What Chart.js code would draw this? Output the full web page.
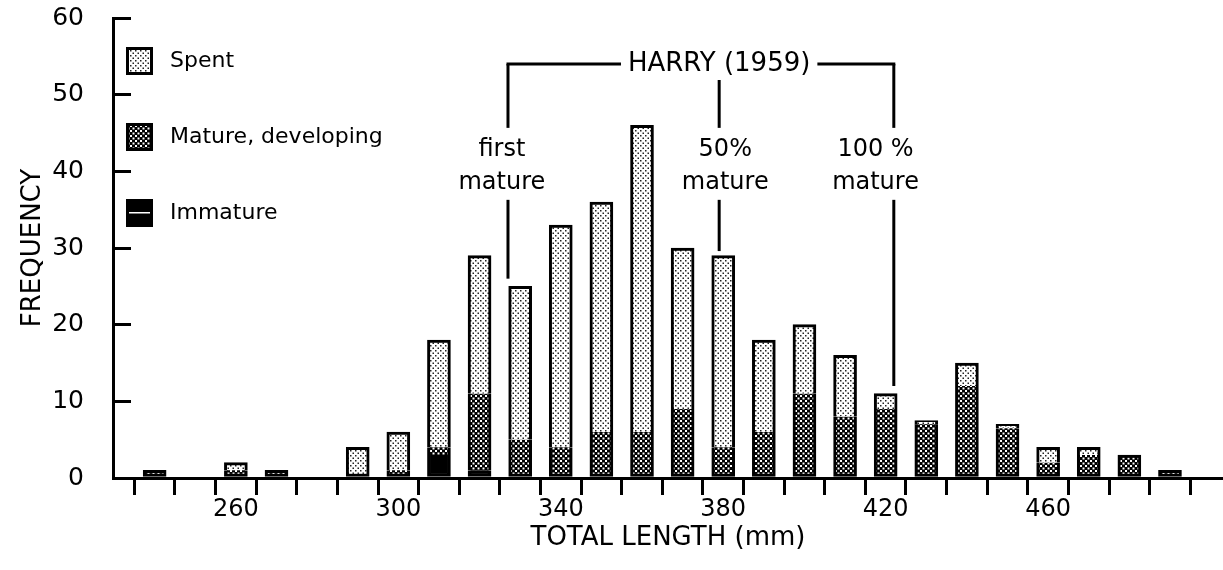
<!DOCTYPE html>
<html>
<head>
<meta charset="utf-8">
<title>Total length frequency</title>
<script src="https://cdn.jsdelivr.net/npm/chart.js@4.4.0/dist/chart.umd.min.js"></script>
<style>
    html, body { margin: 0; padding: 0; background: #fff; }
    #wrap { width: 1223px; height: 570px; }
</style>
</head>
<body>
<div id="wrap"><canvas id="lengthChart"></canvas></div>
<script>
// Size classes (mm) and counts per maturity stage
const lengths  = [240, 250, 260, 270, 280, 290, 300, 310, 320, 330, 340, 350, 360, 370, 380, 390, 400, 410, 420, 430, 440, 450, 460, 470, 480, 490];
const immature = [0, 0, 0, 0, 0, 0, 0, 3, 1, 0, 0, 0, 0, 0, 0, 0, 0, 0, 0, 0, 0, 0, 0, 0, 0, 0];
const mature   = [1, 0, 1, 1, 0, 0, 1, 1, 10, 5, 4, 6, 6, 9, 4, 6, 11, 8, 9, 7, 12, 6.5, 2, 3, 3, 1];
const spent    = [0, 0, 1, 0, 0, 4, 5, 14, 18, 20, 29, 30, 40, 21, 25, 12, 9, 8, 2, 0.5, 3, 0.5, 2, 1, 0, 0];

const seriesNames = ['Immature', 'Mature, developing', 'Spent'];
const labeledTicks = [260, 300, 340, 380, 420, 460];
const yTicks = [0, 10, 20, 30, 40, 50, 60];

// Harry (1959) reference lengths
const harryLengths  = [327, 379, 422];
const harryLineEnds = [26, 29.6, 12];
const harryTop      = ['first', '50%', '100 %'];
const harryBottom   = ['mature', 'mature', 'mature'];
const harryLabelAt  = [325.5, 380.5, 417.5];

const FONT = '"DejaVu Sans", sans-serif';

/**
 * Stipple fills like the printed figure
 */
function dotPattern(bg, dot, size, r) {
    const c = document.createElement('canvas');
    c.width = c.height = size;
    const g = c.getContext('2d');
    g.fillStyle = bg;
    g.fillRect(0, 0, size, size);
    g.fillStyle = dot;
    g.fillRect(0, 0, r, r);
    g.fillRect(size / 2, size / 2, r, r);
    return g.createPattern(c, 'repeat');
}

const fills = [
    '#000',
    dotPattern('#000', '#fff', 5, 2),
    dotPattern('#fff', '#222', 5, 1.5)
];
const stages = [immature, mature, spent];

// only the outer edges of a stacked bar get a border
function segmentBorder(ctx) {
    const i = ctx.dataIndex, d = ctx.datasetIndex;
    let isTop = true, isBottom = true;
    for (let k = d + 1; k < stages.length; k++) if (stages[k][i] > 0) isTop = false;
    for (let k = 0; k < d; k++) if (stages[k][i] > 0) isBottom = false;
    return { left: 3, right: 3, top: isTop ? 3 : 0, bottom: isBottom ? 3 : 0 };
}

const datasets = stages.map((vals, d) => ({
    label: seriesNames[d],
    data: lengths.map((len, i) => ({ x: len, y: vals[i] > 0 ? vals[i] : null })),
    backgroundColor: fills[d],
    borderColor: '#000',
    borderWidth: segmentBorder,
    borderSkipped: false,
    barThickness: 23
}));

/**
 * Legend in the upper left of the plot
 */
const boxLegend = {
    id: 'boxLegend',
    afterDraw(chart) {
        const { ctx, chartArea } = chart;
        const items = chart.data.datasets.slice().reverse();
        ctx.save();
        ctx.font = '22px ' + FONT;
        ctx.textBaseline = 'middle';
        items.forEach((ds, k) => {
            const bx = chartArea.left + 13;
            const by = chartArea.top + 29 + k * 76;
            ctx.fillStyle = '#000';
            ctx.fillRect(bx, by, 27, 28);
            ctx.fillStyle = ds.backgroundColor;
            ctx.fillRect(bx + 3, by + 3, 21, 22);
            if (ds.label === 'Immature') {
                ctx.fillStyle = '#fff';
                ctx.fillRect(bx + 3, by + 13, 21, 1.5);
            }
            ctx.fillStyle = '#000';
            ctx.fillText(ds.label, chartArea.left + 57, by + 14);
        });
        ctx.restore();
    }
};

/**
 * HARRY (1959) bracket and markers
 */
const harryMarks = {
    id: 'harryMarks',
    afterDatasetsDraw(chart) {
        const { ctx, scales: { x, y } } = chart;
        const seg = (x1, y1, x2, y2) => {
            ctx.beginPath();
            ctx.moveTo(x1, y1);
            ctx.lineTo(x2, y2);
            ctx.stroke();
        };
        ctx.save();
        ctx.strokeStyle = '#000';
        ctx.fillStyle = '#000';
        ctx.lineWidth = 3;
        ctx.textAlign = 'center';
        ctx.textBaseline = 'middle';

        const xs = harryLengths.map(v => x.getPixelForValue(v));
        const yb = y.getPixelForValue(54);
        const tx = xs[1];
        const title = 'HARRY (1959)';
        ctx.font = '26px ' + FONT;
        ctx.fillText(title, tx, yb);
        const half = ctx.measureText(title).width / 2 + 7;
        seg(xs[0] - 1.5, yb, tx - half, yb);
        seg(tx + half, yb, xs[2] + 1.5, yb);

        ctx.font = '24px ' + FONT;
        const yTop = y.getPixelForValue(42.8);
        const yBot = y.getPixelForValue(38.5);
        xs.forEach((px, k) => {
            const lx = x.getPixelForValue(harryLabelAt[k]);
            ctx.fillText(harryTop[k], lx, yTop);
            ctx.fillText(harryBottom[k], lx, yBot);
            const start = k === 1 ? yb + 16 : yb;
            seg(px, start, px, yTop - 22);
            seg(px, yBot + 17, px, y.getPixelForValue(harryLineEnds[k]));
        });
        ctx.restore();
    }
};

new Chart(document.getElementById('lengthChart'), {
    type: 'bar',
    data: { datasets },
    options: {
        responsive: true,
        maintainAspectRatio: false,
        animation: false,
        layout: { padding: { top: 18, left: 0, right: 0, bottom: 0 } },
        plugins: {
            legend: { display: false },
            tooltip: { enabled: false }
        },
        scales: {
            x: {
                type: 'linear',
                stacked: true,
                min: 235,
                max: 497.8,
                afterBuildTicks: scale => { scale.ticks = lengths.map(v => ({ value: v })); },
                afterFit: scale => {
                    scale.height = 92;
                    scale.paddingLeft = 0;
                    scale.paddingRight = 0;
                },
                ticks: {
                    autoSkip: false,
                    maxRotation: 0,
                    padding: 0,
                    color: '#000',
                    font: { family: FONT, size: 24 },
                    callback: v => labeledTicks.includes(v) ? String(v) : ''
                },
                grid: { drawOnChartArea: false, drawTicks: true, tickLength: 17, color: '#000', lineWidth: 3 },
                border: { display: true, color: '#000', width: 3 },
                title: {
                    display: true,
                    text: 'TOTAL LENGTH (mm)',
                    color: '#000',
                    font: { family: FONT, size: 26 },
                    padding: { top: 0, bottom: 16 }
                }
            },
            y: {
                stacked: true,
                min: 0,
                max: 60,
                afterBuildTicks: scale => { scale.ticks = yTicks.map(v => ({ value: v })); },
                afterFit: scale => {
                    scale.width = 113;
                    scale.paddingTop = 0;
                    scale.paddingBottom = 0;
                },
                ticks: {
                    padding: 47,
                    color: '#000',
                    font: { family: FONT, size: 25 }
                },
                grid: { drawOnChartArea: false, drawTicks: true, tickLength: -18, color: '#000', lineWidth: 3 },
                border: { display: true, color: '#000', width: 3 },
                title: {
                    display: true,
                    text: 'FREQUENCY',
                    color: '#000',
                    font: { family: FONT, size: 26 },
                    padding: { top: 18, bottom: 0 }
                }
            }
        }
    },
    plugins: [boxLegend, harryMarks]
});
</script>
</body>
</html>
